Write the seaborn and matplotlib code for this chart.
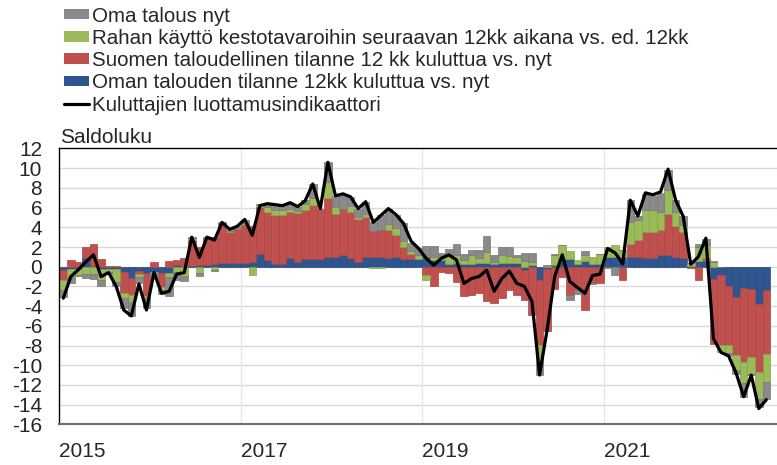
import numpy as np
import pandas as pd
import matplotlib
matplotlib.use("Agg")
import matplotlib.pyplot as plt
import seaborn as sns
from matplotlib.patches import Patch
from matplotlib.lines import Line2D

# ---- data (monthly, Jan 2015 .. Oct 2022) ----
oman_talouden = [-0.3, -0.2, -0.2, 0.85, 0.1, -0.2, -0.2, -0.2, -0.5, -1.1,
                 -0.4, -0.6, -0.5, -0.6, -0.6, 0.15, 0.1, 0.1, 0.15, 0.15,
                 0.25, 0.35, 0.35, 0.35, 0.35, 0.45, 1.25, 0.65, 0.3, 0.3,
                 0.85, 0.45, 0.8, 0.75, 0.75, 1.0, 1.0, 1.2, 0.9, 0.5,
                 0.95, 1.0, 1.0, 0.85, 0.95, 0.8, 0.8, 0.75, 1.0, 0.65,
                 0.7, 0.25, 0.35, 0.25, 0.3, 0.35, 0.4, 0.25, 0.35, 0.35,
                 0.35, -0.35, 0.15, -1.3, -0.25, 0.2, 0.75, 0.75, 0.3, 0.6,
                 0.25, 0.25, 1.0, 1.0, 1.0, 1.0, 1.0, 0.85, 0.85, 1.2,
                 1.2, 1.0, 0.85, 0.1, 0.6, 0.6, -1.2, -0.85, -1.95, -3.1,
                 -2.2, -2.3, -3.8, -2.35]
suomen = [-1.1, 0.65, 0.5, 1.1, 2.2, 0.75, 0.1, 0.05, -2.2, -1.8,
          -0.3, -2.4, 0.5, -1.45, 0.55, 0.5, 0.8, 2.6, 1.8, 2.8,
          2.75, 4.1, 3.2, 3.5, 3.95, 3.65, 4.8, 4.9, 4.95, 4.95,
          4.7, 5.0, 5.0, 5.5, 5.15, 6.0, 4.4, 4.7, 4.7, 4.3,
          4.1, 2.6, 2.75, 2.9, 2.3, 1.2, 0.5, 0.0, -0.85, -2.0,
          -0.5, -0.6, -1.6, -3.0, -2.9, -2.7, -3.5, -3.7, -3.2, -2.4,
          -2.9, -3.05, -4.9, -6.65, -6.3, -2.3, -1.0, -2.9, -2.4, -4.4,
          -1.7, -1.7, 0.0, 0.0, -1.4, 1.35, 1.7, 2.7, 2.7, 2.55,
          4.2, 3.1, 2.7, -0.15, -1.35, 0.3, -6.6, -7.1, -6.0, -5.85,
          -7.45, -6.85, -6.85, -6.5]
rahan_kaytto = [-1.0, -0.8, -0.6, -0.7, -0.7, -1.1, -0.3, -1.4, -0.5, -0.7,
                -0.3, -0.2, -0.1, -0.35, -0.45, -0.5, -0.9, 0.2, -0.6, 0.0,
                -0.3, 0.0, 0.1, 0.0, 0.1, -0.85, 0.35, 0.5, 0.55, 0.5,
                0.3, 0.25, 0.55, 0.75, 0.0, 1.6, 0.7, 0.0, 0.6, 0.25,
                0.35, -0.1, -0.1, 0.55, 0.7, 0.65, 0.3, 0.45, -0.45, 0.35,
                0.4, 0.85, 0.85, 0.4, 0.9, 0.5, 1.1, 0.25, 0.85, 0.75,
                0.6, 0.6, 0.35, -1.85, 0.1, 1.0, 1.45, 0.8, 0.4, 0.6,
                0.7, 1.0, 0.95, 1.25, 0.7, 2.2, 2.0, 2.2, 2.2, 1.85,
                2.35, 1.45, 0.7, 0.3, 1.35, 1.3, 0.45, -0.7, -0.85, -1.5,
                -2.2, -1.7, -2.8, -2.9]
oma_talous = [-0.7, -0.7, -0.1, -0.4, -0.5, -0.7, -0.2, -0.4, -1.0, -1.4,
              -0.7, -1.0, -0.5, -0.4, -1.9, -0.85, -0.6, 0.1, -0.3, 0.05,
              -0.1, 0.05, 0.1, 0.3, 0.3, 0.0, 0.0, 0.4, 0.5, 0.45,
              0.65, 0.35, 0.4, 1.4, 0.0, 2.0, 1.1, 1.5, 0.9, 0.85,
              1.2, 0.95, 1.45, 1.6, 1.25, 1.75, 0.85, 0.65, 1.15, 1.15,
              0.3, 0.7, 1.1, 0.65, 0.5, 0.85, 1.65, 0.7, 0.8, 0.85,
              0.25, 0.8, 0.85, -1.2, 0.05, 0.1, 0.0, -0.45, -0.4, 0.35,
              -0.1, 0.0, -0.1, -0.85, 0.0, 2.2, 0.45, 1.6, 1.45, 1.9,
              2.1, 1.2, 0.85, 0.0, 0.4, 0.6, 0.15, 0.0, -0.25, -0.4,
              -1.35, -0.15, -0.75, -1.7]
luottamus = [-3.2, -1.0, -0.3, 0.5, 1.2, -1.0, -0.6, -2.0, -4.4, -5.0,
             -1.75, -4.4, -0.6, -2.7, -2.5, -0.75, -0.6, 3.0, 0.95, 3.0,
             2.7, 4.5, 3.8, 4.1, 4.8, 3.2, 6.2, 6.4, 6.3, 6.2,
             6.5, 6.1, 6.7, 8.4, 5.9, 10.6, 7.2, 7.4, 7.1, 5.9,
             6.6, 4.5, 5.2, 5.9, 5.3, 4.4, 2.6, 1.85, 0.85, 0.15,
             0.85, 1.2, 0.7, -1.7, -1.2, -1.0, -0.35, -2.5, -1.2, -0.45,
             -1.7, -2.0, -3.55, -11.0, -6.4, -1.0, 1.2, -1.5, -2.1, -2.7,
             -0.9, -0.75, 1.85, 1.4, 0.3, 6.75, 5.15, 7.5, 7.3, 7.6,
             9.9, 6.75, 5.1, 0.25, 1.0, 2.9, -7.3, -8.7, -9.05, -10.8,
             -13.2, -11.0, -14.4, -13.5]

year_ticks = [0, 24, 48, 72]
year_labels = ["2015", "2017", "2019", "2021"]
y_ticks = list(range(-16, 13, 2))

labels = ["Oma talous nyt",
          "Rahan käyttö kestotavaroihin seuraavan 12kk aikana vs. ed. 12kk",
          "Suomen taloudellinen tilanne 12 kk kuluttua vs. nyt",
          "Oman talouden tilanne 12kk kuluttua vs. nyt",
          "Kuluttajien luottamusindikaattori"]

# ---- style ----
sns.set_style("white")
plt.rcParams["font.family"] = ["Liberation Sans", "DejaVu Sans"]
plt.rcParams["axes.unicode_minus"] = False

c_gray = "#8a8a8a"
c_green = "#9bbb59"
c_red = "#c0504d"
c_blue = "#2e5590"

fig = plt.figure(figsize=(7.77, 4.65), dpi=100)
ax = fig.add_axes([59.5 / 777, 1 - 424.3 / 465, 1 - 59.5 / 777, (424.3 - 148.5) / 465])

n = len(luottamus)
x = np.arange(n) + 0.5

series = [(oman_talouden, c_blue, "#27497c"),
          (suomen, c_red, "#a84542"),
          (rahan_kaytto, c_green, "#86a34c"),
          (oma_talous, c_gray, "#777777")]
pos_base = np.zeros(n)
neg_base = np.zeros(n)
for vals, col, ecol in series:
    v = np.asarray(vals, dtype=float)
    bottom = np.where(v >= 0, pos_base, neg_base)
    ax.bar(x, v, bottom=bottom, width=1.0, color=col, edgecolor=ecol,
           linewidth=0.5, zorder=2)
    pos_base += np.clip(v, 0, None)
    neg_base += np.clip(v, None, 0)

df = pd.DataFrame({"x": x, "y": luottamus})
sns.lineplot(data=df, x="x", y="y", color="black", linewidth=2.3, ax=ax, zorder=3)

ax.set_xlim(0, (777 - 59.5) / 7.56)
ax.set_ylim(-16, 12)
ax.set_yticks(y_ticks)
ax.set_yticklabels([str(t) for t in y_ticks])
ax.set_xticks(year_ticks)
ax.set_xticklabels(year_labels, ha="left")
ax.set_xlabel("")
ax.set_ylabel("")
ax.tick_params(axis="y", length=0, pad=12.5, labelsize=15)
ax.tick_params(axis="x", length=0, pad=13, labelsize=15)

for t in y_ticks:
    if -16 < t < 12:
        ax.axhline(t, color="#d9d9d9", linewidth=1.0, zorder=0)
for t in year_ticks[1:]:
    ax.axvline(t, color="#e6e6e6", linewidth=1.0, zorder=0)

for s in ["left", "top"]:
    ax.spines[s].set_color("black")
    ax.spines[s].set_linewidth(1.0)
ax.spines["bottom"].set_color("#6e6e6e")
ax.spines["bottom"].set_linewidth(1.5)
ax.spines["right"].set_visible(False)

fig.text(60 / 777, 1 - 143 / 465, "Saldoluku", fontsize=15, ha="left", va="baseline")

handles = [Patch(facecolor=c_gray, edgecolor="none"),
           Patch(facecolor=c_green, edgecolor="none"),
           Patch(facecolor=c_red, edgecolor="none"),
           Patch(facecolor=c_blue, edgecolor="none"),
           Line2D([0], [0], color="black", linewidth=2.3)]
fig.legend(handles, labels, loc="upper left", bbox_to_anchor=(64.3 / 777, 1 - 6.5 / 465),
           frameon=False, fontsize=14.75, handlelength=1.22, handleheight=0.42,
           handletextpad=0.12, labelspacing=0.16, borderpad=0, borderaxespad=0)

fig.savefig("out.png", dpi=100)
